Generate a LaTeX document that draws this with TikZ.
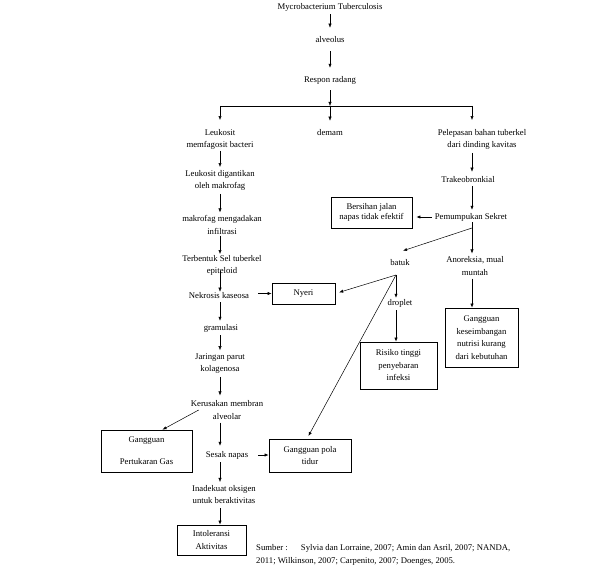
\documentclass[tikz,border=0pt]{standalone}
\usepackage{fontspec}
\setmainfont{Liberation Serif}
\usetikzlibrary{arrows,arrows.meta}
\tikzset{
  % text of one step of the pathway
  flow text/.style={align=center,inner sep=1pt,font=\fontsize{8.7}{12.5}\selectfont},
  % framed nursing problem
  result box/.style={flow text,draw,line width=.7pt},
  % connector
  flow arrow/.style={-{Latex[length=4pt,width=3.2pt]},line width=.5pt,shorten <=2pt,shorten >=2pt},
}
\begin{document}
\begin{tikzpicture}[x=1pt,y=-1pt]
\useasboundingbox (0,0) rectangle (602,577);

% top
\node[flow text] (myco) at (330,7) {Mycrobacterium Tuberculosis};
\node[flow text] (alv) at (330,40) {alveolus};
\node[flow text] (respon) at (330,80) {Respon radang};
\coordinate (jl) at (220,106);
\coordinate (jr) at (472,106);
\coordinate (cl) at (220,0);

% left column
\node[flow text] (leuk) at (220,139.5) {Leukosit\\memfagosit bacteri};
\node[flow text] (digant) at (220,180.5) {Leukosit digantikan\\oleh makrofag};
\node[flow text] (makro) at (222,225) {makrofag mengadakan\\infiltrasi};
\node[flow text] (terbentuk) at (222,265.5) {Terbentuk Sel tuberkel\\epiteloid};
\node[flow text] (nekrosis) at (219,296) {Nekrosis kaseosa};
\node[flow text] (gramulasi) at (221,328) {gramulasi};
\node[flow text] (jaringan) at (220,363.5) {Jaringan parut\\kolagenosa};
\node[flow text] (kerusakan) at (227,410) {Kerusakan membran\\alveolar};
\node[flow text] (sesak) at (227,455) {Sesak napas};
\node[flow text] (inadekuat) at (224,494.5) {Inadekuat oksigen\\untuk beraktivitas};

% middle and right column
\node[flow text] (demam) at (330,133) {demam};
\node[flow text] (pel) at (482,139.5) {Pelepasan bahan tuberkel\\dari dinding kavitas};
\node[flow text] (trakeo) at (468,180) {Trakeobronkial};
\node[flow text] (pemumpukan) at (471,217) {Pemumpukan Sekret};
\coordinate (pm) at (472,228);
\node[flow text] (batuk) at (400,263) {batuk};
\coordinate (bt) at (396,275);
\node[flow text] (droplet) at (400,303) {droplet};
\node[flow text] (anoreksia) at (475,266) {Anoreksia, mual\\muntah};

% boxes
\node[result box,minimum width=81pt,minimum height=31pt] (bersihan) at (371.5,212.5) {Bersihan jalan\\[-2.5pt]napas tidak efektif};
\node[result box,minimum width=63pt,minimum height=21pt] (nyeri) at (303.5,293.5) {Nyeri};
\node[result box,minimum width=77pt,minimum height=47pt] (risiko) at (398.5,365.5) {Risiko tinggi\\penyebaran\\infeksi};
\node[result box,minimum width=73pt,minimum height=59pt] (keseimb) at (481.5,337.5) {Gangguan\\keseimbangan\\nutrisi kurang\\dari kebutuhan};
\node[result box,minimum width=91pt,minimum height=42pt] (gpg) at (146.5,451) {Gangguan\\[9.5pt]Pertukaran Gas};
\node[result box,minimum width=82pt,minimum height=33pt] (tidur) at (310,455.5) {Gangguan pola\\tidur};
\node[result box,minimum width=69pt,minimum height=30pt] (intol) at (211.5,540) {Intoleransi\\Aktivitas};

\node[flow text,align=left,anchor=west] (sumber) at (255,555) {Sumber :\quad\ \ Sylvia dan Lorraine, 2007; Amin dan Asril, 2007; NANDA,\\2011; Wilkinson, 2007; Carpenito, 2007; Doenges, 2005.};

% connectors
\draw[flow arrow,shorten >=8pt] (myco) -- (alv);
\draw[flow arrow,shorten <=7pt,shorten >=7pt] (alv) -- (respon);
\draw[flow arrow,shorten <=5pt,shorten >=0pt] (respon) -- (respon |- jl);
\draw[line width=.5pt] (jl) -- (jr);
\draw[flow arrow,shorten <=0pt,shorten >=8pt] (jl) -- (leuk);
\draw[flow arrow,shorten <=0pt,shorten >=8pt] (respon |- jl) -- (demam);
\draw[flow arrow,shorten <=0pt,shorten >=8pt] (jr) -- (jr |- pel.north);

\draw[flow arrow,shorten <=0pt] (leuk.south -| cl) -- (digant.north -| cl);
\draw[flow arrow] (digant.south -| cl) -- (makro.north -| cl);
\draw[flow arrow,shorten <=0pt,shorten >=0pt] (makro.south -| cl) -- (terbentuk.north -| cl);
\draw[flow arrow,shorten <=-6pt,shorten >=0pt] (terbentuk.south -| cl) -- (nekrosis.north -| cl);
\draw[flow arrow] (nekrosis.south -| cl) -- (gramulasi.north -| cl);
\draw[flow arrow] (gramulasi.south -| cl) -- (jaringan.north -| cl);
\draw[flow arrow,shorten >=4pt] (jaringan.south -| cl) -- (kerusakan.north -| cl);
\draw[flow arrow,shorten >=4pt] (kerusakan.south -| cl) -- (sesak.north -| cl);
\draw[flow arrow] (sesak.south -| cl) -- (inadekuat.north -| cl);
\draw[flow arrow,shorten <=3pt,shorten >=0pt] (inadekuat.south -| cl) -- (intol.north -| cl);

\draw[flow arrow,shorten <=8pt,shorten >=0pt] (nyeri.west -| nekrosis.east) -- (nyeri.west);
\draw[flow arrow,shorten <=9pt,shorten >=0pt] (sesak.east) -- (sesak.east -| tidur.west);
\draw[flow arrow,shorten <=0pt,shorten >=0pt] ([xshift=9pt]kerusakan.west) -- ([xshift=16pt]gpg.north);

\draw[flow arrow,shorten <=2pt,shorten >=4pt] (jr |- pel.south) -- (jr |- trakeo.north);
\draw[flow arrow,shorten <=2pt,shorten >=2pt] (jr |- trakeo.south) -- (jr |- pemumpukan.north);
\draw[flow arrow,shorten <=2pt,shorten >=4pt] (pemumpukan.west) -- (pemumpukan.west -| bersihan.east);
\draw[line width=.5pt] (pemumpukan.south -| pm) -- (pm);
\draw[flow arrow,shorten <=0pt,shorten >=0pt] (pm) -- ([xshift=3pt,yshift=8pt]batuk.north);
\draw[flow arrow,shorten <=0pt,shorten >=2pt] (pm) -- (pm |- anoreksia.north);
\draw[flow arrow,shorten <=2pt,shorten >=0pt] (anoreksia.south -| pm) -- (keseimb.north -| pm);

\draw[flow arrow,shorten <=0pt,shorten >=4pt] (bt) -- (nyeri.east);
\draw[flow arrow,shorten <=0pt,shorten >=0pt] (bt) -- (bt |- droplet.north);
\draw[flow arrow,shorten <=0pt,shorten >=3pt] (bt) -- ([xshift=-3pt]tidur.north);
\draw[flow arrow,shorten <=2pt,shorten >=0pt] (droplet.south -| bt) -- (risiko.north -| bt);

\end{tikzpicture}
\end{document}
